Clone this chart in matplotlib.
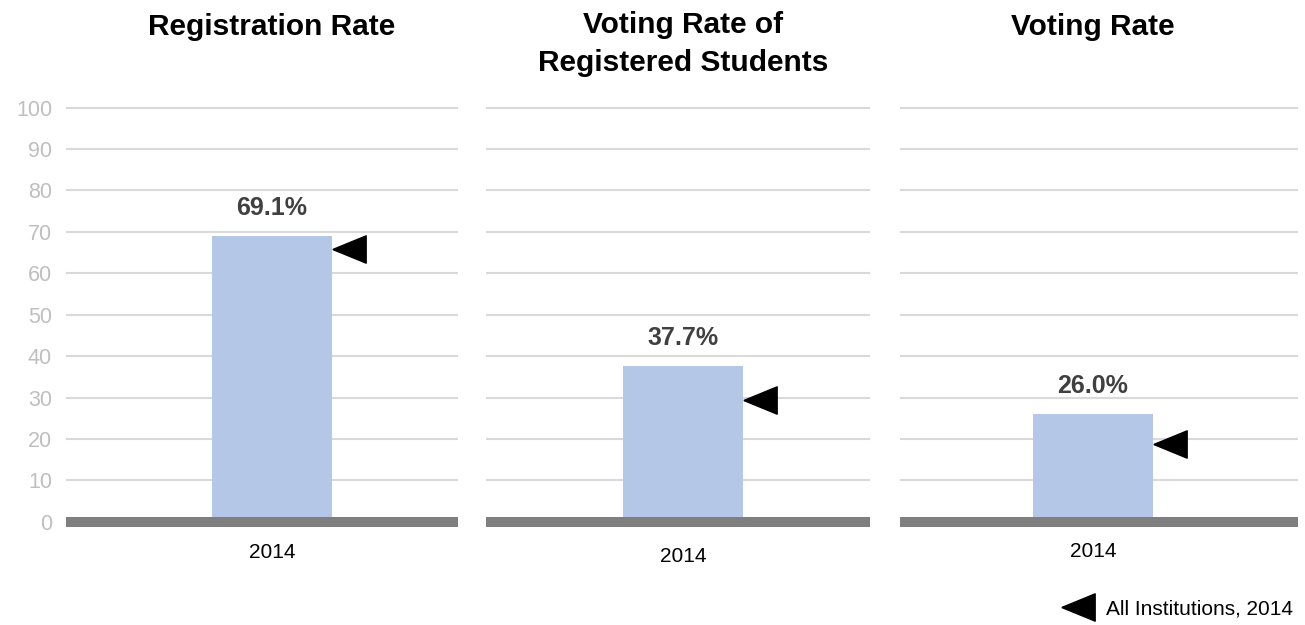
import numpy as np
import matplotlib.pyplot as plt
from matplotlib.lines import Line2D

plt.rcParams['font.family'] = ['Liberation Sans', 'DejaVu Sans']

# 数据
titles = ['Registration Rate', 'Voting Rate of\nRegistered Students', 'Voting Rate']
years = ['2014', '2014', '2014']
rates = [69.1, 37.7, 26.0]
all_inst = [65.8, 29.5, 18.8]   # 所有院校, 2014 (三角标记)
yticks = [0, 10, 20, 30, 40, 50, 60, 70, 80, 90, 100]
legend_label = 'All Institutions, 2014'

W, H = 1305, 625
# 每个面板的像素范围 (左, 右, 柱子中心) 和年份标签间距
panels = [(66, 458, 272), (486, 870, 683), (900, 1298, 1093)]
xpads = [15.5, 18, 14.5]
bar_px = 120
y0_px, y100_px = 521.7, 107.7

bar_color = '#B4C7E7'
grid_color = '#D9D9D9'
base_color = '#7F7F7F'
tri_verts = [(-1.22, 0), (1.22, 1), (1.22, -1), (-1.22, 0)]

fig = plt.figure(figsize=(W / 100, H / 100), dpi=100)

for i in range(3):
    left, right, center = panels[i]
    ax = fig.add_axes([left / W, 1 - y0_px / H, (right - left) / W, (y0_px - y100_px) / H])
    ax.set_xlim(-(center - left) / bar_px, (right - center) / bar_px)
    ax.set_ylim(0, 100)

    ax.bar([0], [rates[i]], width=1.0, color=bar_color, zorder=2)
    ax.plot([0.5 + 16.5 / bar_px], [all_inst[i]], marker=tri_verts, markersize=24,
            color='black', linestyle='none', zorder=4, clip_on=False)
    ax.annotate(f'{rates[i]:.1f}%', (0, rates[i]), xytext=(0, 20), textcoords='offset points',
                ha='center', va='center', fontsize=18, fontweight='bold', color='#404040')

    for t in yticks[1:]:
        ax.axhline(t, color=grid_color, linewidth=1.5, zorder=1, clip_on=False,
                   solid_capstyle='butt')
    ax.axhline(0, color=base_color, linewidth=7.2, zorder=3, clip_on=False,
               solid_capstyle='butt')

    for s in ax.spines.values():
        s.set_visible(False)
    ax.set_xticks([0])
    ax.set_xticklabels([years[i]], fontsize=15)
    ax.tick_params(axis='x', length=0, pad=xpads[i])
    if i == 0:
        ax.set_yticks(yticks)
        ax.tick_params(axis='y', length=0, labelsize=15.5, labelcolor='#BFBFBF', pad=10)
    else:
        ax.set_yticks([])

    ty = 44 if '\n' in titles[i] else 27
    fig.text(center / W, 1 - ty / H, titles[i], ha='center', va='center',
             fontsize=21.5, fontweight='bold', linespacing=1.45)

# 图例
handle = Line2D([], [], marker=tri_verts, markersize=24, color='black', linestyle='none')
fig.legend([handle], [legend_label], loc='center right', bbox_to_anchor=(1293 / W, 1 - 609 / H),
           frameon=False, fontsize=15, handletextpad=0.6, handlelength=1.5,
           borderaxespad=0, borderpad=0)

fig.savefig('out.png', dpi=100)
